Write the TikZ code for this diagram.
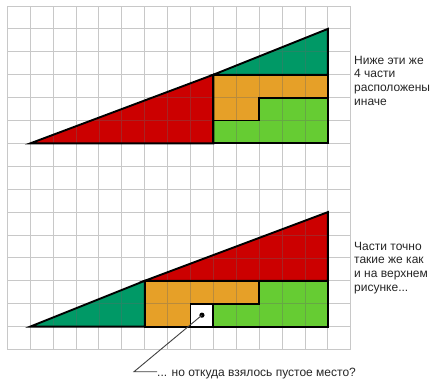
\documentclass[tikz,border=0pt]{standalone}
\usepackage{fontspec}
\setmainfont{Liberation Sans}
\definecolor{cred}{RGB}{204,0,0}
\definecolor{cdgreen}{RGB}{0,153,102}
\definecolor{corange}{RGB}{230,160,40}
\definecolor{clgreen}{RGB}{102,204,51}
\definecolor{cgrid}{RGB}{200,200,200}
\tikzset{
  piece/.style={draw=black,line width=1.9pt,line join=miter},
  gridline/.style={cgrid,line width=0.9pt},
  gridover/.style={black!60,opacity=0.35,line width=0.8pt},
  caption/.style={font=\fontsize{12}{13.7}\selectfont,align=left,inner sep=0pt,text=black!85}
}
\begin{document}
\begin{tikzpicture}[x=1pt,y=-1pt]
\useasboundingbox (0,0) rectangle (430,380);
\fill[white] (0,0) rectangle (430,380);
\begin{scope}[shift={(7.3,6)},x=22.9pt,y=-22.9pt]
  \draw[gridline,step=22.9pt] (0,0) grid (15,15);
  % top figure
  \fill[cred] (1,6) -- (9,6) -- (9,3) -- cycle;
  \fill[cdgreen] (9,3) -- (14,3) -- (14,1) -- cycle;
  \fill[corange] (9,3) -- (14,3) -- (14,4) -- (11,4) -- (11,5) -- (9,5) -- cycle;
  \fill[clgreen] (11,4) -- (14,4) -- (14,6) -- (9,6) -- (9,5) -- (11,5) -- cycle;
  % bottom figure
  \fill[cdgreen] (1,14) -- (6,14) -- (6,12) -- cycle;
  \fill[cred] (6,12) -- (14,12) -- (14,9) -- cycle;
  \fill[corange] (6,12) -- (11,12) -- (11,13) -- (8,13) -- (8,14) -- (6,14) -- cycle;
  \fill[clgreen] (11,12) -- (14,12) -- (14,14) -- (9,14) -- (9,13) -- (11,13) -- cycle;
  \begin{scope}
    \clip (1,6) -- (14,6) -- (14,1) -- cycle;
    \draw[gridover,step=22.9pt] (0,0) grid (15,15);
  \end{scope}
  \begin{scope}
    \clip (1,14) -- (14,14) -- (14,9) -- cycle;
    \draw[gridover,step=22.9pt] (0,0) grid (15,15);
  \end{scope}
  % outlines top
  \draw[piece] (1,6) -- (9,6) -- (9,3) -- cycle;
  \draw[piece] (9,3) -- (14,3) -- (14,1) -- cycle;
  \draw[piece] (9,3) -- (14,3) -- (14,4) -- (11,4) -- (11,5) -- (9,5) -- cycle;
  \draw[piece] (11,4) -- (14,4) -- (14,6) -- (9,6) -- (9,5) -- (11,5) -- cycle;
  % outlines bottom
  \draw[piece] (1,14) -- (6,14) -- (6,12) -- cycle;
  \draw[piece] (6,12) -- (14,12) -- (14,9) -- cycle;
  \draw[piece] (6,12) -- (11,12) -- (11,13) -- (8,13) -- (8,14) -- (6,14) -- cycle;
  \draw[piece] (11,12) -- (14,12) -- (14,14) -- (9,14) -- (9,13) -- (11,13) -- cycle;
  \draw[piece] (8,13) -- (9,13) -- (9,14) -- (8,14);
  \coordinate (hole) at (8.5,13.5);
\end{scope}
\fill[black] (hole) circle (2.6pt);
\node[caption,anchor=base west] (topnote) at (354,105.1) {Ниже эти же\\4 части\\расположены\\иначе};
\node[caption,anchor=base west] (botnote) at (354,291.1) {Части точно\\такие же как\\и на верхнем\\рисунке...};
\node[caption,anchor=base west] (question) at (157,376) {... но откуда взялось пустое место?};
\coordinate (bend) at (134,371.7);
\draw[black!75,line width=0.9pt] (hole) -- (bend) -- (question.west|-bend);
\end{tikzpicture}
\end{document}
